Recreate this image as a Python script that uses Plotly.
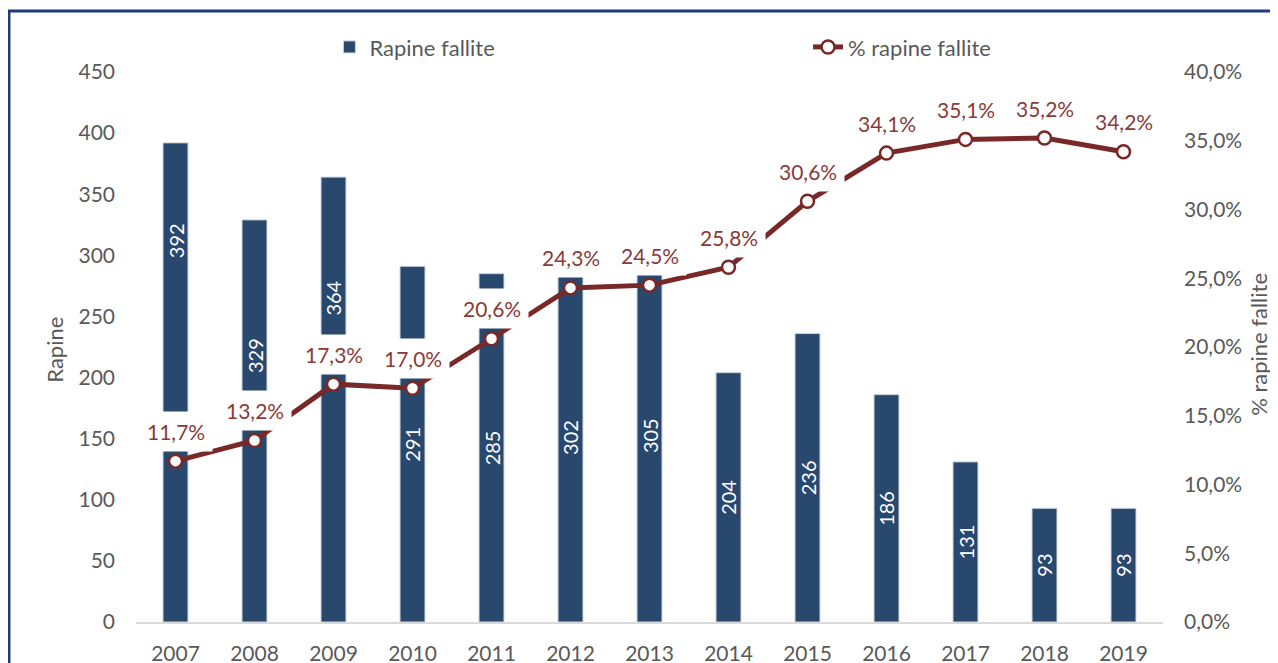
import plotly.graph_objects as go

# dati
anni = [2007, 2008, 2009, 2010, 2011, 2012, 2013,
        2014, 2015, 2016, 2017, 2018, 2019]
rapine_fallite = [392, 329, 364, 291, 285, 302, 305, 204, 236, 186, 131, 93, 93]
perc_fallite = [0.117, 0.132, 0.173, 0.170, 0.206, 0.243, 0.245,
                0.258, 0.306, 0.341, 0.351, 0.352, 0.342]

BLU = "#29486E"
ROSSO = "#782826"
ROSSO_TXT = "#8A3A37"
GRIGIO = "#595959"
FONT = "Lato"
FS = 21

# etichette delle prime barre spostate a mano (come nell'originale Excel)
etichette_spostate = {2007: 312, 2008: 218, 2009: 265}

fig = go.Figure()

fig.add_trace(go.Bar(
    x=anni, y=rapine_fallite, name="Rapine fallite",
    marker=dict(color=BLU, line=dict(color="#C9D1DC", width=1)),
    yaxis="y", legend="legend",
))

fig.add_trace(go.Scatter(
    x=anni, y=perc_fallite, name="% rapine fallite",
    mode="lines+markers", yaxis="y2", legend="legend2",
    line=dict(color=ROSSO, width=5),
    marker=dict(symbol="circle", size=13, color="white",
                line=dict(color=ROSSO, width=2.5)),
))

annotations = []
# valori dentro le barre
for anno, v in zip(anni, rapine_fallite):
    annotations.append(dict(
        x=anno, y=etichette_spostate.get(anno, v / 2), xref="x", yref="y",
        text=str(v), textangle=-90, showarrow=False,
        font=dict(family=FONT, size=20, color="white"),
    ))
# percentuali sopra la linea, con sfondo bianco
for anno, p in zip(anni, perc_fallite):
    annotations.append(dict(
        x=anno, y=p, xref="x", yref="y2", yshift=30,
        text=f"{p * 100:.1f}%".replace(".", ","), showarrow=False,
        bgcolor="white", borderpad=7,
        font=dict(family=FONT, size=FS, color=ROSSO_TXT),
    ))

# titoli assi
annotations.append(dict(
    x=-0.0789, y=0.495, xref="paper", yref="paper", text="Rapine",
    xanchor="center", yanchor="middle",
    textangle=-90, showarrow=False, font=dict(family=FONT, size=22, color=GRIGIO),
))
annotations.append(dict(
    x=1.0935, y=0.504, xref="paper", yref="paper", text="% rapine fallite",
    xanchor="center", yanchor="middle",
    textangle=-90, showarrow=False, font=dict(family=FONT, size=22, color=GRIGIO),
))

legenda = dict(
    orientation="h", xref="container", yref="container",
    y=0.941, xanchor="left", yanchor="middle",
    font=dict(family=FONT, size=22, color=GRIGIO),
    bgcolor="rgba(0,0,0,0)",
)

fig.update_layout(
    width=1278, height=663,
    margin=dict(l=128, r=123, t=64, b=49, autoexpand=False),
    paper_bgcolor="white", plot_bgcolor="white",
    separators=",.",
    font=dict(family=FONT, size=FS, color=GRIGIO),
    bargap=0.684,
    showlegend=True,
    legend=dict(legenda, x=0.2515),
    legend2=dict(legenda, x=0.626),
    xaxis=dict(
        range=[2006.5, 2019.5], dtick=1, tickformat="d",
        showgrid=False, showline=True, linecolor="#D9D9D9", linewidth=2,
        zeroline=False, ticks="", ticklabelstandoff=12,
        tickfont=dict(family=FONT, size=FS, color=GRIGIO),
    ),
    yaxis=dict(
        range=[0, 450], dtick=50, showgrid=False, zeroline=False,
        showline=False, ticklabelstandoff=20,
        tickfont=dict(family=FONT, size=FS, color=GRIGIO),
    ),
    yaxis2=dict(
        range=[0, 0.4], dtick=0.05, tickformat=".1%", overlaying="y",
        side="right", showgrid=False, zeroline=False, showline=False,
        ticklabelstandoff=20,
        tickfont=dict(family=FONT, size=FS, color=GRIGIO),
    ),
    annotations=annotations,
    shapes=[dict(
        type="path", xref="paper", yref="paper",
        path="M -0.1237,-0.2 L -0.1237,1.1109 L 1.2,1.1109",
        line=dict(color="#1F3A7A", width=3),
    )],
)

fig.write_html("out.html")
